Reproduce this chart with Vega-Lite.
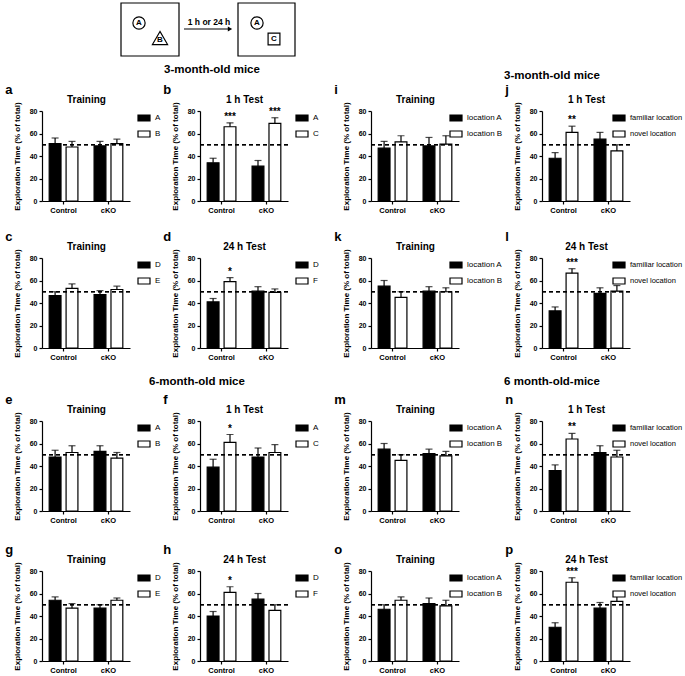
{
"$schema": "https://vega.github.io/schema/vega-lite/v6.json",
"padding": {"left": 5, "top": 2, "right": 0, "bottom": 0},
"background": "white",
"config": {
 "font": "Liberation Sans",
 "view": {"stroke": null},
 "axis": {"domainColor": "black", "tickColor": "black", "labelColor": "black", "titleColor": "black", "grid": false, "domainWidth": 1.2, "tickWidth": 1.2, "tickSize": 3, "labelFontWeight": "bold", "labelFontSize": 7, "titleFontWeight": "bold"},
 "axisX": {"labelAngle": 0, "labelFontSize": 7.5, "labelPadding": 2, "titleFontSize": 10, "titleY": -107},
 "axisY": {"values": [0,10,20,30,40,50,60,70,80], "titleFontSize": 8, "titlePadding": 8, "labelPadding": 2},
 "legend": {"labelFontSize": 8, "labelColor": "black", "symbolStrokeColor": "black", "symbolStrokeWidth": 1.2, "rowPadding": 3, "labelOffset": 4, "padding": 0},
 "title": {"anchor": "start", "frame": "bounds", "fontSize": 13, "fontWeight": "bold", "dx": -8, "offset": -3, "color": "black"}
},
"data": {"values": [
 {"panel":"a","group":"Control","cond":"A","mean":51,"hi":56,"sig":""},
 {"panel":"a","group":"Control","cond":"B","mean":48,"hi":53,"sig":""},
 {"panel":"a","group":"cKO","cond":"A","mean":49,"hi":53,"sig":""},
 {"panel":"a","group":"cKO","cond":"B","mean":51,"hi":55,"sig":""},
 {"panel":"b","group":"Control","cond":"A","mean":34,"hi":38,"sig":""},
 {"panel":"b","group":"Control","cond":"C","mean":66,"hi":69.5,"sig":"***"},
 {"panel":"b","group":"cKO","cond":"A","mean":31,"hi":36,"sig":""},
 {"panel":"b","group":"cKO","cond":"C","mean":69,"hi":74,"sig":"***"},
 {"panel":"c","group":"Control","cond":"D","mean":46.5,"hi":50,"sig":""},
 {"panel":"c","group":"Control","cond":"E","mean":53,"hi":57,"sig":""},
 {"panel":"c","group":"cKO","cond":"D","mean":47.5,"hi":51,"sig":""},
 {"panel":"c","group":"cKO","cond":"E","mean":52,"hi":55,"sig":""},
 {"panel":"d","group":"Control","cond":"D","mean":41,"hi":44,"sig":""},
 {"panel":"d","group":"Control","cond":"F","mean":59,"hi":62.5,"sig":"*"},
 {"panel":"d","group":"cKO","cond":"D","mean":50.5,"hi":54.5,"sig":""},
 {"panel":"d","group":"cKO","cond":"F","mean":49.5,"hi":52.5,"sig":""},
 {"panel":"e","group":"Control","cond":"A","mean":48,"hi":54,"sig":""},
 {"panel":"e","group":"Control","cond":"B","mean":52,"hi":58,"sig":""},
 {"panel":"e","group":"cKO","cond":"A","mean":53,"hi":58,"sig":""},
 {"panel":"e","group":"cKO","cond":"B","mean":47,"hi":52,"sig":""},
 {"panel":"f","group":"Control","cond":"A","mean":39,"hi":46,"sig":""},
 {"panel":"f","group":"Control","cond":"C","mean":61,"hi":68,"sig":"*"},
 {"panel":"f","group":"cKO","cond":"A","mean":48,"hi":56,"sig":""},
 {"panel":"f","group":"cKO","cond":"C","mean":52,"hi":59,"sig":""},
 {"panel":"g","group":"Control","cond":"D","mean":54,"hi":57,"sig":""},
 {"panel":"g","group":"Control","cond":"E","mean":47,"hi":51,"sig":""},
 {"panel":"g","group":"cKO","cond":"D","mean":47,"hi":50,"sig":""},
 {"panel":"g","group":"cKO","cond":"E","mean":54,"hi":56,"sig":""},
 {"panel":"h","group":"Control","cond":"D","mean":40,"hi":44,"sig":""},
 {"panel":"h","group":"Control","cond":"F","mean":61,"hi":66,"sig":"*"},
 {"panel":"h","group":"cKO","cond":"D","mean":55,"hi":60,"sig":""},
 {"panel":"h","group":"cKO","cond":"F","mean":45,"hi":50,"sig":""},
 {"panel":"i","group":"Control","cond":"location A","mean":47,"hi":53,"sig":""},
 {"panel":"i","group":"Control","cond":"location B","mean":52.5,"hi":58,"sig":""},
 {"panel":"i","group":"cKO","cond":"location A","mean":49,"hi":56.5,"sig":""},
 {"panel":"i","group":"cKO","cond":"location B","mean":50.5,"hi":58,"sig":""},
 {"panel":"j","group":"Control","cond":"familiar location","mean":38,"hi":43,"sig":""},
 {"panel":"j","group":"Control","cond":"novel location","mean":61,"hi":66.5,"sig":"**"},
 {"panel":"j","group":"cKO","cond":"familiar location","mean":55,"hi":61,"sig":""},
 {"panel":"j","group":"cKO","cond":"novel location","mean":44.5,"hi":50,"sig":""},
 {"panel":"k","group":"Control","cond":"location A","mean":55,"hi":60,"sig":""},
 {"panel":"k","group":"Control","cond":"location B","mean":45,"hi":50,"sig":""},
 {"panel":"k","group":"cKO","cond":"location A","mean":50.5,"hi":54.5,"sig":""},
 {"panel":"k","group":"cKO","cond":"location B","mean":50,"hi":53.5,"sig":""},
 {"panel":"l","group":"Control","cond":"familiar location","mean":33,"hi":36.5,"sig":""},
 {"panel":"l","group":"Control","cond":"novel location","mean":66.5,"hi":70.5,"sig":"***"},
 {"panel":"l","group":"cKO","cond":"familiar location","mean":48.5,"hi":53.5,"sig":""},
 {"panel":"l","group":"cKO","cond":"novel location","mean":50.5,"hi":55.5,"sig":""},
 {"panel":"m","group":"Control","cond":"location A","mean":55,"hi":60,"sig":""},
 {"panel":"m","group":"Control","cond":"location B","mean":45,"hi":50,"sig":""},
 {"panel":"m","group":"cKO","cond":"location A","mean":51,"hi":55,"sig":""},
 {"panel":"m","group":"cKO","cond":"location B","mean":49,"hi":53,"sig":""},
 {"panel":"n","group":"Control","cond":"familiar location","mean":36,"hi":41,"sig":""},
 {"panel":"n","group":"Control","cond":"novel location","mean":64,"hi":69,"sig":"**"},
 {"panel":"n","group":"cKO","cond":"familiar location","mean":52,"hi":58,"sig":""},
 {"panel":"n","group":"cKO","cond":"novel location","mean":48,"hi":54,"sig":""},
 {"panel":"o","group":"Control","cond":"location A","mean":46,"hi":50,"sig":""},
 {"panel":"o","group":"Control","cond":"location B","mean":54,"hi":57,"sig":""},
 {"panel":"o","group":"cKO","cond":"location A","mean":51,"hi":56,"sig":""},
 {"panel":"o","group":"cKO","cond":"location B","mean":49,"hi":54,"sig":""},
 {"panel":"p","group":"Control","cond":"familiar location","mean":30,"hi":34,"sig":""},
 {"panel":"p","group":"Control","cond":"novel location","mean":70,"hi":74,"sig":"***"},
 {"panel":"p","group":"cKO","cond":"familiar location","mean":47,"hi":52,"sig":""},
 {"panel":"p","group":"cKO","cond":"novel location","mean":53,"hi":59,"sig":""}
]},
"spacing": 2,
"resolve": {"scale": {"x": "independent", "y": "independent", "xOffset": "independent", "fill": "independent"}, "legend": {"fill": "independent"}, "axis": {"x": "independent", "y": "independent"}},
"vconcat": [
 {"hconcat": [
  {"width": 340, "height": 55,
   "data": {"values": [
    {"kind":"box","x":79,"x2":137,"y":0,"y2":53},
    {"kind":"box","x":196,"x2":253,"y":0,"y2":53},
    {"kind":"circle","x":97,"y":20,"t":"A"},
    {"kind":"circle","x":215,"y":20,"t":"A"},
    {"kind":"tri","x":118,"y":35,"t":"B"},
    {"kind":"sq","x":232,"y":36,"t":"C"},
    {"kind":"arrow","x":142,"x2":187,"y":26},
    {"kind":"head","x":188,"y":26},
    {"kind":"label","x":167,"y":19,"t":"1 h or 24 h"}
   ]},
   "title": {"text": "3-month-old mice", "orient": "bottom", "anchor": "middle", "fontSize": 11.5, "dx": 0, "offset": 6},
   "encoding": {
    "x": {"field": "x", "type": "quantitative", "scale": {"domain": [0, 340], "nice": false, "zero": false}, "axis": null},
    "y": {"field": "y", "type": "quantitative", "scale": {"domain": [0, 55], "nice": false, "reverse": true}, "axis": null}
   },
   "layer": [
    {"transform": [{"filter": "datum.kind==='box'"}], "mark": {"type": "rect", "fillOpacity": 0, "stroke": "black", "strokeWidth": 1.2}, "encoding": {"x2": {"field": "x2"}, "y2": {"field": "y2"}}},
    {"transform": [{"filter": "datum.kind==='circle'"}], "mark": {"type": "point", "shape": "circle", "size": 150, "color": "black", "strokeWidth": 1.2, "filled": false, "opacity": 1}},
    {"transform": [{"filter": "datum.kind==='tri'"}], "mark": {"type": "point", "shape": "triangle-up", "size": 230, "color": "black", "strokeWidth": 1.2, "filled": false, "opacity": 1}},
    {"transform": [{"filter": "datum.kind==='sq'"}], "mark": {"type": "point", "shape": "square", "size": 140, "color": "black", "strokeWidth": 1.2, "filled": false, "opacity": 1}},
    {"transform": [{"filter": "datum.kind==='circle'||datum.kind==='sq'"}], "mark": {"type": "text", "fontSize": 8, "fontWeight": "bold", "color": "black"}, "encoding": {"text": {"field": "t"}}},
    {"transform": [{"filter": "datum.kind==='tri'"}], "mark": {"type": "text", "fontSize": 8, "fontWeight": "bold", "color": "black", "dy": 2}, "encoding": {"text": {"field": "t"}}},
    {"transform": [{"filter": "datum.kind==='arrow'"}], "mark": {"type": "rule", "strokeWidth": 1.2, "color": "black"}, "encoding": {"x2": {"field": "x2"}}},
    {"transform": [{"filter": "datum.kind==='head'"}], "mark": {"type": "point", "shape": "triangle-right", "size": 25, "filled": true, "color": "black", "opacity": 1}},
    {"transform": [{"filter": "datum.kind==='label'"}], "mark": {"type": "text", "fontSize": 8.5, "fontWeight": "bold", "color": "black"}, "encoding": {"text": {"field": "t"}}}
   ]},
  {"width": 340, "height": 64, "data": {"values": [{}]}, "mark": {"type": "text"}, "encoding": {"text": {"value": ""}},
   "title": {"text": "3-month-old mice", "orient": "bottom", "anchor": "middle", "fontSize": 11.5, "dx": 0, "offset": 3}}
 ], "spacing": 0},
 {"vconcat": [
  {"hconcat": [
   {"hconcat": [
    {"title": {"text": "a"}, "width": 88, "height": 90, "transform": [{"filter": "datum.panel==='a'"}], "layer": [
     {"mark": {"type": "bar", "stroke": "black", "strokeWidth": 1.2}, "encoding": {"x": {"field": "group", "type": "nominal", "sort": ["Control", "cKO"], "scale": {"paddingInner": 0.36, "paddingOuter": 0.16}, "title": "Training"}, "xOffset": {"field": "cond", "type": "nominal", "scale": {"paddingInner": 0.3}}, "y": {"field": "mean", "type": "quantitative", "scale": {"domain": [0, 80]}, "title": "Exploration Time (% of total)"}, "fill": {"field": "cond", "type": "nominal", "scale": {"range": ["black", "white"]}, "legend": {"title": null, "offset": 7, "symbolType": "M-1,-0.5H1V0.5H-1Z", "symbolSize": 144}}}},
     {"mark": {"type": "rule", "strokeWidth": 1.2, "color": "black"}, "encoding": {"x": {"field": "group", "type": "nominal", "sort": ["Control", "cKO"]}, "xOffset": {"field": "cond", "type": "nominal"}, "y": {"field": "mean", "type": "quantitative"}, "y2": {"field": "hi"}}},
     {"mark": {"type": "tick", "thickness": 1.2, "size": 7, "color": "black"}, "encoding": {"x": {"field": "group", "type": "nominal", "sort": ["Control", "cKO"]}, "xOffset": {"field": "cond", "type": "nominal"}, "y": {"field": "hi", "type": "quantitative"}}},
     {"mark": {"type": "text", "baseline": "bottom", "dy": -1, "fontSize": 10, "fontWeight": "bold", "color": "black"}, "encoding": {"x": {"field": "group", "type": "nominal", "sort": ["Control", "cKO"]}, "xOffset": {"field": "cond", "type": "nominal"}, "y": {"field": "hi", "type": "quantitative"}, "text": {"field": "sig"}}},
     {"mark": {"type": "rule", "strokeDash": [4, 3], "strokeWidth": 1.2, "color": "black"}, "encoding": {"y": {"datum": 50}}}
    ]},
    {"title": {"text": "b"}, "width": 88, "height": 90, "transform": [{"filter": "datum.panel==='b'"}], "layer": [
     {"mark": {"type": "bar", "stroke": "black", "strokeWidth": 1.2}, "encoding": {"x": {"field": "group", "type": "nominal", "sort": ["Control", "cKO"], "scale": {"paddingInner": 0.36, "paddingOuter": 0.16}, "title": "1 h Test"}, "xOffset": {"field": "cond", "type": "nominal", "scale": {"paddingInner": 0.3}}, "y": {"field": "mean", "type": "quantitative", "scale": {"domain": [0, 80]}, "title": "Exploration Time (% of total)"}, "fill": {"field": "cond", "type": "nominal", "scale": {"range": ["black", "white"]}, "legend": {"title": null, "offset": 7, "symbolType": "M-1,-0.5H1V0.5H-1Z", "symbolSize": 144}}}},
     {"mark": {"type": "rule", "strokeWidth": 1.2, "color": "black"}, "encoding": {"x": {"field": "group", "type": "nominal", "sort": ["Control", "cKO"]}, "xOffset": {"field": "cond", "type": "nominal"}, "y": {"field": "mean", "type": "quantitative"}, "y2": {"field": "hi"}}},
     {"mark": {"type": "tick", "thickness": 1.2, "size": 7, "color": "black"}, "encoding": {"x": {"field": "group", "type": "nominal", "sort": ["Control", "cKO"]}, "xOffset": {"field": "cond", "type": "nominal"}, "y": {"field": "hi", "type": "quantitative"}}},
     {"mark": {"type": "text", "baseline": "bottom", "dy": -1, "fontSize": 10, "fontWeight": "bold", "color": "black"}, "encoding": {"x": {"field": "group", "type": "nominal", "sort": ["Control", "cKO"]}, "xOffset": {"field": "cond", "type": "nominal"}, "y": {"field": "hi", "type": "quantitative"}, "text": {"field": "sig"}}},
     {"mark": {"type": "rule", "strokeDash": [4, 3], "strokeWidth": 1.2, "color": "black"}, "encoding": {"y": {"datum": 50}}}
    ]}
   ], "spacing": 2, "resolve": {"scale": {"x": "independent", "y": "independent", "xOffset": "independent", "fill": "independent"}, "legend": {"fill": "independent"}, "axis": {"x": "independent", "y": "independent"}}},
   {"hconcat": [
    {"title": {"text": "i"}, "width": 88, "height": 90, "transform": [{"filter": "datum.panel==='i'"}], "layer": [
     {"mark": {"type": "bar", "stroke": "black", "strokeWidth": 1.2}, "encoding": {"x": {"field": "group", "type": "nominal", "sort": ["Control", "cKO"], "scale": {"paddingInner": 0.36, "paddingOuter": 0.16}, "title": "Training"}, "xOffset": {"field": "cond", "type": "nominal", "scale": {"paddingInner": 0.3}}, "y": {"field": "mean", "type": "quantitative", "scale": {"domain": [0, 80]}, "title": "Exploration Time (% of total)"}, "fill": {"field": "cond", "type": "nominal", "scale": {"range": ["black", "white"]}, "legend": {"title": null, "offset": -10, "symbolType": "M-1,-0.5H1V0.5H-1Z", "symbolSize": 144}}}},
     {"mark": {"type": "rule", "strokeWidth": 1.2, "color": "black"}, "encoding": {"x": {"field": "group", "type": "nominal", "sort": ["Control", "cKO"]}, "xOffset": {"field": "cond", "type": "nominal"}, "y": {"field": "mean", "type": "quantitative"}, "y2": {"field": "hi"}}},
     {"mark": {"type": "tick", "thickness": 1.2, "size": 7, "color": "black"}, "encoding": {"x": {"field": "group", "type": "nominal", "sort": ["Control", "cKO"]}, "xOffset": {"field": "cond", "type": "nominal"}, "y": {"field": "hi", "type": "quantitative"}}},
     {"mark": {"type": "text", "baseline": "bottom", "dy": -1, "fontSize": 10, "fontWeight": "bold", "color": "black"}, "encoding": {"x": {"field": "group", "type": "nominal", "sort": ["Control", "cKO"]}, "xOffset": {"field": "cond", "type": "nominal"}, "y": {"field": "hi", "type": "quantitative"}, "text": {"field": "sig"}}},
     {"mark": {"type": "rule", "strokeDash": [4, 3], "strokeWidth": 1.2, "color": "black"}, "encoding": {"y": {"datum": 50}}}
    ]},
    {"title": {"text": "j"}, "width": 88, "height": 90, "transform": [{"filter": "datum.panel==='j'"}], "layer": [
     {"mark": {"type": "bar", "stroke": "black", "strokeWidth": 1.2}, "encoding": {"x": {"field": "group", "type": "nominal", "sort": ["Control", "cKO"], "scale": {"paddingInner": 0.36, "paddingOuter": 0.16}, "title": "1 h Test"}, "xOffset": {"field": "cond", "type": "nominal", "scale": {"paddingInner": 0.3}}, "y": {"field": "mean", "type": "quantitative", "scale": {"domain": [0, 80]}, "title": "Exploration Time (% of total)"}, "fill": {"field": "cond", "type": "nominal", "scale": {"range": ["black", "white"]}, "legend": {"title": null, "offset": -18, "labelFontSize": 7.5, "symbolType": "M-1,-0.5H1V0.5H-1Z", "symbolSize": 144}}}},
     {"mark": {"type": "rule", "strokeWidth": 1.2, "color": "black"}, "encoding": {"x": {"field": "group", "type": "nominal", "sort": ["Control", "cKO"]}, "xOffset": {"field": "cond", "type": "nominal"}, "y": {"field": "mean", "type": "quantitative"}, "y2": {"field": "hi"}}},
     {"mark": {"type": "tick", "thickness": 1.2, "size": 7, "color": "black"}, "encoding": {"x": {"field": "group", "type": "nominal", "sort": ["Control", "cKO"]}, "xOffset": {"field": "cond", "type": "nominal"}, "y": {"field": "hi", "type": "quantitative"}}},
     {"mark": {"type": "text", "baseline": "bottom", "dy": -1, "fontSize": 10, "fontWeight": "bold", "color": "black"}, "encoding": {"x": {"field": "group", "type": "nominal", "sort": ["Control", "cKO"]}, "xOffset": {"field": "cond", "type": "nominal"}, "y": {"field": "hi", "type": "quantitative"}, "text": {"field": "sig"}}},
     {"mark": {"type": "rule", "strokeDash": [4, 3], "strokeWidth": 1.2, "color": "black"}, "encoding": {"y": {"datum": 50}}}
    ]}
   ], "spacing": 2, "resolve": {"scale": {"x": "independent", "y": "independent", "xOffset": "independent", "fill": "independent"}, "legend": {"fill": "independent"}, "axis": {"x": "independent", "y": "independent"}}}
  ], "spacing": 15, "resolve": {"scale": {"x": "independent", "y": "independent", "xOffset": "independent", "fill": "independent"}, "legend": {"fill": "independent"}, "axis": {"x": "independent", "y": "independent"}}},
  {"hconcat": [
   {"hconcat": [
    {"title": {"text": "c"}, "width": 88, "height": 90, "transform": [{"filter": "datum.panel==='c'"}], "layer": [
     {"mark": {"type": "bar", "stroke": "black", "strokeWidth": 1.2}, "encoding": {"x": {"field": "group", "type": "nominal", "sort": ["Control", "cKO"], "scale": {"paddingInner": 0.36, "paddingOuter": 0.16}, "title": "Training"}, "xOffset": {"field": "cond", "type": "nominal", "scale": {"paddingInner": 0.3}}, "y": {"field": "mean", "type": "quantitative", "scale": {"domain": [0, 80]}, "title": "Exploration Time (% of total)"}, "fill": {"field": "cond", "type": "nominal", "scale": {"range": ["black", "white"]}, "legend": {"title": null, "offset": 7, "symbolType": "M-1,-0.5H1V0.5H-1Z", "symbolSize": 144}}}},
     {"mark": {"type": "rule", "strokeWidth": 1.2, "color": "black"}, "encoding": {"x": {"field": "group", "type": "nominal", "sort": ["Control", "cKO"]}, "xOffset": {"field": "cond", "type": "nominal"}, "y": {"field": "mean", "type": "quantitative"}, "y2": {"field": "hi"}}},
     {"mark": {"type": "tick", "thickness": 1.2, "size": 7, "color": "black"}, "encoding": {"x": {"field": "group", "type": "nominal", "sort": ["Control", "cKO"]}, "xOffset": {"field": "cond", "type": "nominal"}, "y": {"field": "hi", "type": "quantitative"}}},
     {"mark": {"type": "text", "baseline": "bottom", "dy": -1, "fontSize": 10, "fontWeight": "bold", "color": "black"}, "encoding": {"x": {"field": "group", "type": "nominal", "sort": ["Control", "cKO"]}, "xOffset": {"field": "cond", "type": "nominal"}, "y": {"field": "hi", "type": "quantitative"}, "text": {"field": "sig"}}},
     {"mark": {"type": "rule", "strokeDash": [4, 3], "strokeWidth": 1.2, "color": "black"}, "encoding": {"y": {"datum": 50}}}
    ]},
    {"title": {"text": "d"}, "width": 88, "height": 90, "transform": [{"filter": "datum.panel==='d'"}], "layer": [
     {"mark": {"type": "bar", "stroke": "black", "strokeWidth": 1.2}, "encoding": {"x": {"field": "group", "type": "nominal", "sort": ["Control", "cKO"], "scale": {"paddingInner": 0.36, "paddingOuter": 0.16}, "title": "24 h Test"}, "xOffset": {"field": "cond", "type": "nominal", "scale": {"paddingInner": 0.3}}, "y": {"field": "mean", "type": "quantitative", "scale": {"domain": [0, 80]}, "title": "Exploration Time (% of total)"}, "fill": {"field": "cond", "type": "nominal", "scale": {"range": ["black", "white"]}, "legend": {"title": null, "offset": 7, "symbolType": "M-1,-0.5H1V0.5H-1Z", "symbolSize": 144}}}},
     {"mark": {"type": "rule", "strokeWidth": 1.2, "color": "black"}, "encoding": {"x": {"field": "group", "type": "nominal", "sort": ["Control", "cKO"]}, "xOffset": {"field": "cond", "type": "nominal"}, "y": {"field": "mean", "type": "quantitative"}, "y2": {"field": "hi"}}},
     {"mark": {"type": "tick", "thickness": 1.2, "size": 7, "color": "black"}, "encoding": {"x": {"field": "group", "type": "nominal", "sort": ["Control", "cKO"]}, "xOffset": {"field": "cond", "type": "nominal"}, "y": {"field": "hi", "type": "quantitative"}}},
     {"mark": {"type": "text", "baseline": "bottom", "dy": -1, "fontSize": 10, "fontWeight": "bold", "color": "black"}, "encoding": {"x": {"field": "group", "type": "nominal", "sort": ["Control", "cKO"]}, "xOffset": {"field": "cond", "type": "nominal"}, "y": {"field": "hi", "type": "quantitative"}, "text": {"field": "sig"}}},
     {"mark": {"type": "rule", "strokeDash": [4, 3], "strokeWidth": 1.2, "color": "black"}, "encoding": {"y": {"datum": 50}}}
    ]}
   ], "spacing": 2, "resolve": {"scale": {"x": "independent", "y": "independent", "xOffset": "independent", "fill": "independent"}, "legend": {"fill": "independent"}, "axis": {"x": "independent", "y": "independent"}}},
   {"hconcat": [
    {"title": {"text": "k"}, "width": 88, "height": 90, "transform": [{"filter": "datum.panel==='k'"}], "layer": [
     {"mark": {"type": "bar", "stroke": "black", "strokeWidth": 1.2}, "encoding": {"x": {"field": "group", "type": "nominal", "sort": ["Control", "cKO"], "scale": {"paddingInner": 0.36, "paddingOuter": 0.16}, "title": "Training"}, "xOffset": {"field": "cond", "type": "nominal", "scale": {"paddingInner": 0.3}}, "y": {"field": "mean", "type": "quantitative", "scale": {"domain": [0, 80]}, "title": "Exploration Time (% of total)"}, "fill": {"field": "cond", "type": "nominal", "scale": {"range": ["black", "white"]}, "legend": {"title": null, "offset": -10, "symbolType": "M-1,-0.5H1V0.5H-1Z", "symbolSize": 144}}}},
     {"mark": {"type": "rule", "strokeWidth": 1.2, "color": "black"}, "encoding": {"x": {"field": "group", "type": "nominal", "sort": ["Control", "cKO"]}, "xOffset": {"field": "cond", "type": "nominal"}, "y": {"field": "mean", "type": "quantitative"}, "y2": {"field": "hi"}}},
     {"mark": {"type": "tick", "thickness": 1.2, "size": 7, "color": "black"}, "encoding": {"x": {"field": "group", "type": "nominal", "sort": ["Control", "cKO"]}, "xOffset": {"field": "cond", "type": "nominal"}, "y": {"field": "hi", "type": "quantitative"}}},
     {"mark": {"type": "text", "baseline": "bottom", "dy": -1, "fontSize": 10, "fontWeight": "bold", "color": "black"}, "encoding": {"x": {"field": "group", "type": "nominal", "sort": ["Control", "cKO"]}, "xOffset": {"field": "cond", "type": "nominal"}, "y": {"field": "hi", "type": "quantitative"}, "text": {"field": "sig"}}},
     {"mark": {"type": "rule", "strokeDash": [4, 3], "strokeWidth": 1.2, "color": "black"}, "encoding": {"y": {"datum": 50}}}
    ]},
    {"title": {"text": "l"}, "width": 88, "height": 90, "transform": [{"filter": "datum.panel==='l'"}], "layer": [
     {"mark": {"type": "bar", "stroke": "black", "strokeWidth": 1.2}, "encoding": {"x": {"field": "group", "type": "nominal", "sort": ["Control", "cKO"], "scale": {"paddingInner": 0.36, "paddingOuter": 0.16}, "title": "24 h Test"}, "xOffset": {"field": "cond", "type": "nominal", "scale": {"paddingInner": 0.3}}, "y": {"field": "mean", "type": "quantitative", "scale": {"domain": [0, 80]}, "title": "Exploration Time (% of total)"}, "fill": {"field": "cond", "type": "nominal", "scale": {"range": ["black", "white"]}, "legend": {"title": null, "offset": -18, "labelFontSize": 7.5, "symbolType": "M-1,-0.5H1V0.5H-1Z", "symbolSize": 144}}}},
     {"mark": {"type": "rule", "strokeWidth": 1.2, "color": "black"}, "encoding": {"x": {"field": "group", "type": "nominal", "sort": ["Control", "cKO"]}, "xOffset": {"field": "cond", "type": "nominal"}, "y": {"field": "mean", "type": "quantitative"}, "y2": {"field": "hi"}}},
     {"mark": {"type": "tick", "thickness": 1.2, "size": 7, "color": "black"}, "encoding": {"x": {"field": "group", "type": "nominal", "sort": ["Control", "cKO"]}, "xOffset": {"field": "cond", "type": "nominal"}, "y": {"field": "hi", "type": "quantitative"}}},
     {"mark": {"type": "text", "baseline": "bottom", "dy": -1, "fontSize": 10, "fontWeight": "bold", "color": "black"}, "encoding": {"x": {"field": "group", "type": "nominal", "sort": ["Control", "cKO"]}, "xOffset": {"field": "cond", "type": "nominal"}, "y": {"field": "hi", "type": "quantitative"}, "text": {"field": "sig"}}},
     {"mark": {"type": "rule", "strokeDash": [4, 3], "strokeWidth": 1.2, "color": "black"}, "encoding": {"y": {"datum": 50}}}
    ]}
   ], "spacing": 2, "resolve": {"scale": {"x": "independent", "y": "independent", "xOffset": "independent", "fill": "independent"}, "legend": {"fill": "independent"}, "axis": {"x": "independent", "y": "independent"}}}
  ], "spacing": 15, "resolve": {"scale": {"x": "independent", "y": "independent", "xOffset": "independent", "fill": "independent"}, "legend": {"fill": "independent"}, "axis": {"x": "independent", "y": "independent"}}}
 ], "spacing": 17, "resolve": {"scale": {"x": "independent", "y": "independent", "xOffset": "independent", "fill": "independent"}, "legend": {"fill": "independent"}, "axis": {"x": "independent", "y": "independent"}}},
 {"vconcat": [
  {"hconcat": [
   {"width": 310, "height": 12, "data": {"values": [{}]}, "mark": {"type": "text"}, "encoding": {"text": {"value": ""}},
    "title": {"text": "6-month-old mice", "orient": "bottom", "anchor": "middle", "fontSize": 11.5, "dx": 0, "offset": 1}},
   {"width": 340, "height": 12, "data": {"values": [{}]}, "mark": {"type": "text"}, "encoding": {"text": {"value": ""}},
    "title": {"text": "6 month-old-mice", "orient": "bottom", "anchor": "middle", "fontSize": 11.5, "dx": 0, "offset": 1}}
  ], "spacing": 30},
  {"vconcat": [
   {"hconcat": [
    {"hconcat": [
     {"title": {"text": "e"}, "width": 88, "height": 90, "transform": [{"filter": "datum.panel==='e'"}], "layer": [
      {"mark": {"type": "bar", "stroke": "black", "strokeWidth": 1.2}, "encoding": {"x": {"field": "group", "type": "nominal", "sort": ["Control", "cKO"], "scale": {"paddingInner": 0.36, "paddingOuter": 0.16}, "title": "Training"}, "xOffset": {"field": "cond", "type": "nominal", "scale": {"paddingInner": 0.3}}, "y": {"field": "mean", "type": "quantitative", "scale": {"domain": [0, 80]}, "title": "Exploration Time (% of total)"}, "fill": {"field": "cond", "type": "nominal", "scale": {"range": ["black", "white"]}, "legend": {"title": null, "offset": 7, "symbolType": "M-1,-0.5H1V0.5H-1Z", "symbolSize": 144}}}},
      {"mark": {"type": "rule", "strokeWidth": 1.2, "color": "black"}, "encoding": {"x": {"field": "group", "type": "nominal", "sort": ["Control", "cKO"]}, "xOffset": {"field": "cond", "type": "nominal"}, "y": {"field": "mean", "type": "quantitative"}, "y2": {"field": "hi"}}},
      {"mark": {"type": "tick", "thickness": 1.2, "size": 7, "color": "black"}, "encoding": {"x": {"field": "group", "type": "nominal", "sort": ["Control", "cKO"]}, "xOffset": {"field": "cond", "type": "nominal"}, "y": {"field": "hi", "type": "quantitative"}}},
      {"mark": {"type": "text", "baseline": "bottom", "dy": -1, "fontSize": 10, "fontWeight": "bold", "color": "black"}, "encoding": {"x": {"field": "group", "type": "nominal", "sort": ["Control", "cKO"]}, "xOffset": {"field": "cond", "type": "nominal"}, "y": {"field": "hi", "type": "quantitative"}, "text": {"field": "sig"}}},
      {"mark": {"type": "rule", "strokeDash": [4, 3], "strokeWidth": 1.2, "color": "black"}, "encoding": {"y": {"datum": 50}}}
     ]},
     {"title": {"text": "f"}, "width": 88, "height": 90, "transform": [{"filter": "datum.panel==='f'"}], "layer": [
      {"mark": {"type": "bar", "stroke": "black", "strokeWidth": 1.2}, "encoding": {"x": {"field": "group", "type": "nominal", "sort": ["Control", "cKO"], "scale": {"paddingInner": 0.36, "paddingOuter": 0.16}, "title": "1 h Test"}, "xOffset": {"field": "cond", "type": "nominal", "scale": {"paddingInner": 0.3}}, "y": {"field": "mean", "type": "quantitative", "scale": {"domain": [0, 80]}, "title": "Exploration Time (% of total)"}, "fill": {"field": "cond", "type": "nominal", "scale": {"range": ["black", "white"]}, "legend": {"title": null, "offset": 7, "symbolType": "M-1,-0.5H1V0.5H-1Z", "symbolSize": 144}}}},
      {"mark": {"type": "rule", "strokeWidth": 1.2, "color": "black"}, "encoding": {"x": {"field": "group", "type": "nominal", "sort": ["Control", "cKO"]}, "xOffset": {"field": "cond", "type": "nominal"}, "y": {"field": "mean", "type": "quantitative"}, "y2": {"field": "hi"}}},
      {"mark": {"type": "tick", "thickness": 1.2, "size": 7, "color": "black"}, "encoding": {"x": {"field": "group", "type": "nominal", "sort": ["Control", "cKO"]}, "xOffset": {"field": "cond", "type": "nominal"}, "y": {"field": "hi", "type": "quantitative"}}},
      {"mark": {"type": "text", "baseline": "bottom", "dy": -1, "fontSize": 10, "fontWeight": "bold", "color": "black"}, "encoding": {"x": {"field": "group", "type": "nominal", "sort": ["Control", "cKO"]}, "xOffset": {"field": "cond", "type": "nominal"}, "y": {"field": "hi", "type": "quantitative"}, "text": {"field": "sig"}}},
      {"mark": {"type": "rule", "strokeDash": [4, 3], "strokeWidth": 1.2, "color": "black"}, "encoding": {"y": {"datum": 50}}}
     ]}
    ], "spacing": 2, "resolve": {"scale": {"x": "independent", "y": "independent", "xOffset": "independent", "fill": "independent"}, "legend": {"fill": "independent"}, "axis": {"x": "independent", "y": "independent"}}},
    {"hconcat": [
     {"title": {"text": "m"}, "width": 88, "height": 90, "transform": [{"filter": "datum.panel==='m'"}], "layer": [
      {"mark": {"type": "bar", "stroke": "black", "strokeWidth": 1.2}, "encoding": {"x": {"field": "group", "type": "nominal", "sort": ["Control", "cKO"], "scale": {"paddingInner": 0.36, "paddingOuter": 0.16}, "title": "Training"}, "xOffset": {"field": "cond", "type": "nominal", "scale": {"paddingInner": 0.3}}, "y": {"field": "mean", "type": "quantitative", "scale": {"domain": [0, 80]}, "title": "Exploration Time (% of total)"}, "fill": {"field": "cond", "type": "nominal", "scale": {"range": ["black", "white"]}, "legend": {"title": null, "offset": -10, "symbolType": "M-1,-0.5H1V0.5H-1Z", "symbolSize": 144}}}},
      {"mark": {"type": "rule", "strokeWidth": 1.2, "color": "black"}, "encoding": {"x": {"field": "group", "type": "nominal", "sort": ["Control", "cKO"]}, "xOffset": {"field": "cond", "type": "nominal"}, "y": {"field": "mean", "type": "quantitative"}, "y2": {"field": "hi"}}},
      {"mark": {"type": "tick", "thickness": 1.2, "size": 7, "color": "black"}, "encoding": {"x": {"field": "group", "type": "nominal", "sort": ["Control", "cKO"]}, "xOffset": {"field": "cond", "type": "nominal"}, "y": {"field": "hi", "type": "quantitative"}}},
      {"mark": {"type": "text", "baseline": "bottom", "dy": -1, "fontSize": 10, "fontWeight": "bold", "color": "black"}, "encoding": {"x": {"field": "group", "type": "nominal", "sort": ["Control", "cKO"]}, "xOffset": {"field": "cond", "type": "nominal"}, "y": {"field": "hi", "type": "quantitative"}, "text": {"field": "sig"}}},
      {"mark": {"type": "rule", "strokeDash": [4, 3], "strokeWidth": 1.2, "color": "black"}, "encoding": {"y": {"datum": 50}}}
     ]},
     {"title": {"text": "n"}, "width": 88, "height": 90, "transform": [{"filter": "datum.panel==='n'"}], "layer": [
      {"mark": {"type": "bar", "stroke": "black", "strokeWidth": 1.2}, "encoding": {"x": {"field": "group", "type": "nominal", "sort": ["Control", "cKO"], "scale": {"paddingInner": 0.36, "paddingOuter": 0.16}, "title": "1 h Test"}, "xOffset": {"field": "cond", "type": "nominal", "scale": {"paddingInner": 0.3}}, "y": {"field": "mean", "type": "quantitative", "scale": {"domain": [0, 80]}, "title": "Exploration Time (% of total)"}, "fill": {"field": "cond", "type": "nominal", "scale": {"range": ["black", "white"]}, "legend": {"title": null, "offset": -18, "labelFontSize": 7.5, "symbolType": "M-1,-0.5H1V0.5H-1Z", "symbolSize": 144}}}},
      {"mark": {"type": "rule", "strokeWidth": 1.2, "color": "black"}, "encoding": {"x": {"field": "group", "type": "nominal", "sort": ["Control", "cKO"]}, "xOffset": {"field": "cond", "type": "nominal"}, "y": {"field": "mean", "type": "quantitative"}, "y2": {"field": "hi"}}},
      {"mark": {"type": "tick", "thickness": 1.2, "size": 7, "color": "black"}, "encoding": {"x": {"field": "group", "type": "nominal", "sort": ["Control", "cKO"]}, "xOffset": {"field": "cond", "type": "nominal"}, "y": {"field": "hi", "type": "quantitative"}}},
      {"mark": {"type": "text", "baseline": "bottom", "dy": -1, "fontSize": 10, "fontWeight": "bold", "color": "black"}, "encoding": {"x": {"field": "group", "type": "nominal", "sort": ["Control", "cKO"]}, "xOffset": {"field": "cond", "type": "nominal"}, "y": {"field": "hi", "type": "quantitative"}, "text": {"field": "sig"}}},
      {"mark": {"type": "rule", "strokeDash": [4, 3], "strokeWidth": 1.2, "color": "black"}, "encoding": {"y": {"datum": 50}}}
     ]}
    ], "spacing": 2, "resolve": {"scale": {"x": "independent", "y": "independent", "xOffset": "independent", "fill": "independent"}, "legend": {"fill": "independent"}, "axis": {"x": "independent", "y": "independent"}}}
   ], "spacing": 15, "resolve": {"scale": {"x": "independent", "y": "independent", "xOffset": "independent", "fill": "independent"}, "legend": {"fill": "independent"}, "axis": {"x": "independent", "y": "independent"}}},
   {"hconcat": [
    {"hconcat": [
     {"title": {"text": "g"}, "width": 88, "height": 90, "transform": [{"filter": "datum.panel==='g'"}], "layer": [
      {"mark": {"type": "bar", "stroke": "black", "strokeWidth": 1.2}, "encoding": {"x": {"field": "group", "type": "nominal", "sort": ["Control", "cKO"], "scale": {"paddingInner": 0.36, "paddingOuter": 0.16}, "title": "Training"}, "xOffset": {"field": "cond", "type": "nominal", "scale": {"paddingInner": 0.3}}, "y": {"field": "mean", "type": "quantitative", "scale": {"domain": [0, 80]}, "title": "Exploration Time (% of total)"}, "fill": {"field": "cond", "type": "nominal", "scale": {"range": ["black", "white"]}, "legend": {"title": null, "offset": 7, "symbolType": "M-1,-0.5H1V0.5H-1Z", "symbolSize": 144}}}},
      {"mark": {"type": "rule", "strokeWidth": 1.2, "color": "black"}, "encoding": {"x": {"field": "group", "type": "nominal", "sort": ["Control", "cKO"]}, "xOffset": {"field": "cond", "type": "nominal"}, "y": {"field": "mean", "type": "quantitative"}, "y2": {"field": "hi"}}},
      {"mark": {"type": "tick", "thickness": 1.2, "size": 7, "color": "black"}, "encoding": {"x": {"field": "group", "type": "nominal", "sort": ["Control", "cKO"]}, "xOffset": {"field": "cond", "type": "nominal"}, "y": {"field": "hi", "type": "quantitative"}}},
      {"mark": {"type": "text", "baseline": "bottom", "dy": -1, "fontSize": 10, "fontWeight": "bold", "color": "black"}, "encoding": {"x": {"field": "group", "type": "nominal", "sort": ["Control", "cKO"]}, "xOffset": {"field": "cond", "type": "nominal"}, "y": {"field": "hi", "type": "quantitative"}, "text": {"field": "sig"}}},
      {"mark": {"type": "rule", "strokeDash": [4, 3], "strokeWidth": 1.2, "color": "black"}, "encoding": {"y": {"datum": 50}}}
     ]},
     {"title": {"text": "h"}, "width": 88, "height": 90, "transform": [{"filter": "datum.panel==='h'"}], "layer": [
      {"mark": {"type": "bar", "stroke": "black", "strokeWidth": 1.2}, "encoding": {"x": {"field": "group", "type": "nominal", "sort": ["Control", "cKO"], "scale": {"paddingInner": 0.36, "paddingOuter": 0.16}, "title": "24 h Test"}, "xOffset": {"field": "cond", "type": "nominal", "scale": {"paddingInner": 0.3}}, "y": {"field": "mean", "type": "quantitative", "scale": {"domain": [0, 80]}, "title": "Exploration Time (% of total)"}, "fill": {"field": "cond", "type": "nominal", "scale": {"range": ["black", "white"]}, "legend": {"title": null, "offset": 7, "symbolType": "M-1,-0.5H1V0.5H-1Z", "symbolSize": 144}}}},
      {"mark": {"type": "rule", "strokeWidth": 1.2, "color": "black"}, "encoding": {"x": {"field": "group", "type": "nominal", "sort": ["Control", "cKO"]}, "xOffset": {"field": "cond", "type": "nominal"}, "y": {"field": "mean", "type": "quantitative"}, "y2": {"field": "hi"}}},
      {"mark": {"type": "tick", "thickness": 1.2, "size": 7, "color": "black"}, "encoding": {"x": {"field": "group", "type": "nominal", "sort": ["Control", "cKO"]}, "xOffset": {"field": "cond", "type": "nominal"}, "y": {"field": "hi", "type": "quantitative"}}},
      {"mark": {"type": "text", "baseline": "bottom", "dy": -1, "fontSize": 10, "fontWeight": "bold", "color": "black"}, "encoding": {"x": {"field": "group", "type": "nominal", "sort": ["Control", "cKO"]}, "xOffset": {"field": "cond", "type": "nominal"}, "y": {"field": "hi", "type": "quantitative"}, "text": {"field": "sig"}}},
      {"mark": {"type": "rule", "strokeDash": [4, 3], "strokeWidth": 1.2, "color": "black"}, "encoding": {"y": {"datum": 50}}}
     ]}
    ], "spacing": 2, "resolve": {"scale": {"x": "independent", "y": "independent", "xOffset": "independent", "fill": "independent"}, "legend": {"fill": "independent"}, "axis": {"x": "independent", "y": "independent"}}},
    {"hconcat": [
     {"title": {"text": "o"}, "width": 88, "height": 90, "transform": [{"filter": "datum.panel==='o'"}], "layer": [
      {"mark": {"type": "bar", "stroke": "black", "strokeWidth": 1.2}, "encoding": {"x": {"field": "group", "type": "nominal", "sort": ["Control", "cKO"], "scale": {"paddingInner": 0.36, "paddingOuter": 0.16}, "title": "Training"}, "xOffset": {"field": "cond", "type": "nominal", "scale": {"paddingInner": 0.3}}, "y": {"field": "mean", "type": "quantitative", "scale": {"domain": [0, 80]}, "title": "Exploration Time (% of total)"}, "fill": {"field": "cond", "type": "nominal", "scale": {"range": ["black", "white"]}, "legend": {"title": null, "offset": -10, "symbolType": "M-1,-0.5H1V0.5H-1Z", "symbolSize": 144}}}},
      {"mark": {"type": "rule", "strokeWidth": 1.2, "color": "black"}, "encoding": {"x": {"field": "group", "type": "nominal", "sort": ["Control", "cKO"]}, "xOffset": {"field": "cond", "type": "nominal"}, "y": {"field": "mean", "type": "quantitative"}, "y2": {"field": "hi"}}},
      {"mark": {"type": "tick", "thickness": 1.2, "size": 7, "color": "black"}, "encoding": {"x": {"field": "group", "type": "nominal", "sort": ["Control", "cKO"]}, "xOffset": {"field": "cond", "type": "nominal"}, "y": {"field": "hi", "type": "quantitative"}}},
      {"mark": {"type": "text", "baseline": "bottom", "dy": -1, "fontSize": 10, "fontWeight": "bold", "color": "black"}, "encoding": {"x": {"field": "group", "type": "nominal", "sort": ["Control", "cKO"]}, "xOffset": {"field": "cond", "type": "nominal"}, "y": {"field": "hi", "type": "quantitative"}, "text": {"field": "sig"}}},
      {"mark": {"type": "rule", "strokeDash": [4, 3], "strokeWidth": 1.2, "color": "black"}, "encoding": {"y": {"datum": 50}}}
     ]},
     {"title": {"text": "p"}, "width": 88, "height": 90, "transform": [{"filter": "datum.panel==='p'"}], "layer": [
      {"mark": {"type": "bar", "stroke": "black", "strokeWidth": 1.2}, "encoding": {"x": {"field": "group", "type": "nominal", "sort": ["Control", "cKO"], "scale": {"paddingInner": 0.36, "paddingOuter": 0.16}, "title": "24 h Test"}, "xOffset": {"field": "cond", "type": "nominal", "scale": {"paddingInner": 0.3}}, "y": {"field": "mean", "type": "quantitative", "scale": {"domain": [0, 80]}, "title": "Exploration Time (% of total)"}, "fill": {"field": "cond", "type": "nominal", "scale": {"range": ["black", "white"]}, "legend": {"title": null, "offset": -18, "labelFontSize": 7.5, "symbolType": "M-1,-0.5H1V0.5H-1Z", "symbolSize": 144}}}},
      {"mark": {"type": "rule", "strokeWidth": 1.2, "color": "black"}, "encoding": {"x": {"field": "group", "type": "nominal", "sort": ["Control", "cKO"]}, "xOffset": {"field": "cond", "type": "nominal"}, "y": {"field": "mean", "type": "quantitative"}, "y2": {"field": "hi"}}},
      {"mark": {"type": "tick", "thickness": 1.2, "size": 7, "color": "black"}, "encoding": {"x": {"field": "group", "type": "nominal", "sort": ["Control", "cKO"]}, "xOffset": {"field": "cond", "type": "nominal"}, "y": {"field": "hi", "type": "quantitative"}}},
      {"mark": {"type": "text", "baseline": "bottom", "dy": -1, "fontSize": 10, "fontWeight": "bold", "color": "black"}, "encoding": {"x": {"field": "group", "type": "nominal", "sort": ["Control", "cKO"]}, "xOffset": {"field": "cond", "type": "nominal"}, "y": {"field": "hi", "type": "quantitative"}, "text": {"field": "sig"}}},
      {"mark": {"type": "rule", "strokeDash": [4, 3], "strokeWidth": 1.2, "color": "black"}, "encoding": {"y": {"datum": 50}}}
     ]}
    ], "spacing": 2, "resolve": {"scale": {"x": "independent", "y": "independent", "xOffset": "independent", "fill": "independent"}, "legend": {"fill": "independent"}, "axis": {"x": "independent", "y": "independent"}}}
   ], "spacing": 15, "resolve": {"scale": {"x": "independent", "y": "independent", "xOffset": "independent", "fill": "independent"}, "legend": {"fill": "independent"}, "axis": {"x": "independent", "y": "independent"}}}
  ], "spacing": 20, "resolve": {"scale": {"x": "independent", "y": "independent", "xOffset": "independent", "fill": "independent"}, "legend": {"fill": "independent"}, "axis": {"x": "independent", "y": "independent"}}}
 ], "spacing": 6, "resolve": {"scale": {"x": "independent", "y": "independent", "xOffset": "independent", "fill": "independent"}, "legend": {"fill": "independent"}, "axis": {"x": "independent", "y": "independent"}}}
]
}
